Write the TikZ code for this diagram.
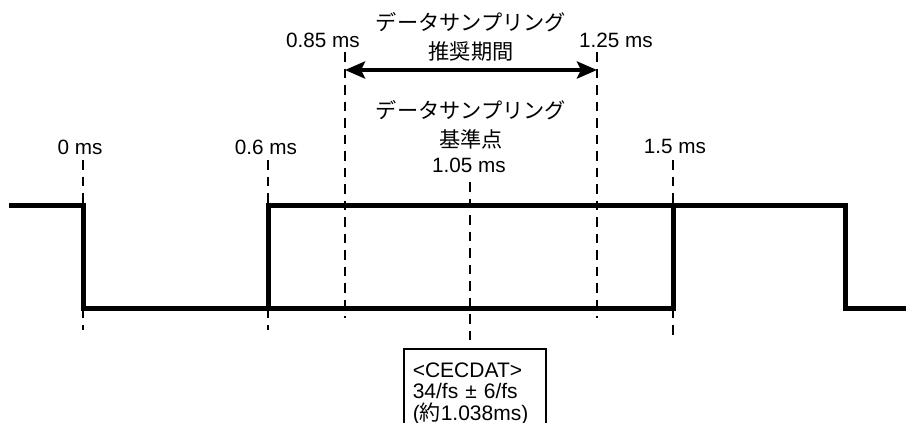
\documentclass[tikz,border=0pt]{standalone}
\usepackage{fontspec}
\setmainfont{Liberation Sans}
\newfontfamily\cjk{Noto Sans CJK JP}
\usetikzlibrary{arrows.meta}
\begin{document}
\begin{tikzpicture}[x=1pt,y=-1pt,
  lbl/.style={inner sep=0pt,font=\fontsize{20.7}{27}\selectfont},
  jlbl/.style={inner sep=0pt,align=center,font=\cjk\fontsize{21.2}{28.5}\selectfont},
  wave/.style={line width=5pt,line join=miter},
  guide/.style={line width=2.8pt,dash pattern=on 9.5pt off 7pt},
  span/.style={line width=4pt,{Stealth[length=20pt,width=17pt,inset=4pt]}-{Stealth[length=20pt,width=17pt,inset=4pt]}},
  infobox/.style={draw,line width=1.6pt,anchor=north west,minimum width=138pt,minimum height=90pt,
    text width=124pt,inner xsep=9pt,inner ysep=9pt,align=left,font=\fontsize{21}{21.8}\selectfont}
]
\clip (0,0) rectangle (906,423);
\fill[white] (0,0) rectangle (906,423);

% labels
\node[lbl] (l0) at (80,147) {0 ms};
\node[lbl] (l06) at (266,147) {0.6 ms};
\node[lbl] (l085) at (323,40) {0.85 ms};
\node[lbl] (l105) at (469,165) {1.05 ms};
\node[lbl] (l125) at (616,40) {1.25 ms};
\node[lbl] (l15) at (675,146) {1.5 ms};
\node[jlbl] (jrec) at (471,37) {データサンプリング\\推奨期間};
\node[jlbl] (jref) at (471,125) {データサンプリング\\基準点};

% info box
\node[infobox] (box) at (403,348) {<CECDAT>\\34/fs ± 6/fs\\({\cjk 約}1.038ms)};

% guide coordinates
\coordinate (g0t) at (83,160);   \coordinate (g0b) at (83,330);
\coordinate (g06t) at (268,160); \coordinate (g06b) at (268,330);
\coordinate (g085t) at (345,52); \coordinate (g085b) at (345,318);
\coordinate (g105t) at (470,182);
\coordinate (g125t) at (597,52); \coordinate (g125b) at (597,318);
\coordinate (g15t) at (673,160); \coordinate (g15b) at (673,335);

\draw[guide] (g0t) -- (g0b);
\draw[guide] (g06t) -- (g06b);
\draw[guide] (g085t) -- (g085b);
\draw[guide,shorten >=4pt] (g105t) -- (box.north -| g105t);
\draw[guide] (g125t) -- (g125b);
\draw[guide] (g15t) -- (g15b);

% span arrow
\coordinate (a1) at (345,70);
\coordinate (a2) at (597,70);
\draw[span] (a1) -- (a2);

% waveforms
\coordinate (w0) at (9,205.5);
\draw[wave] (w0) -- (83,205.5) -- (83,308) -- (268,308) -- (268,205.5) -- (845,205.5) -- (845,308) -- (910,308);
\draw[wave] (268,308) -- (673,308) -- (673,205.5);
\end{tikzpicture}
\end{document}
